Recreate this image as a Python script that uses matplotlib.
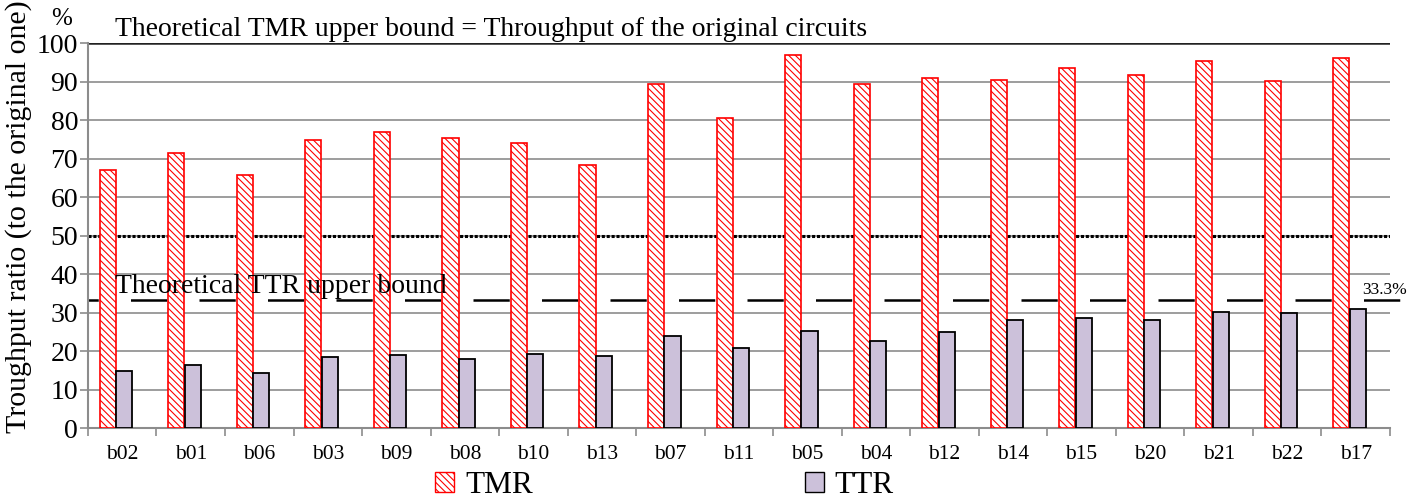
import numpy as np
from matplotlib import pyplot as plt
from matplotlib.patches import Patch

plt.rcParams['font.family'] = ['Liberation Serif', 'DejaVu Serif']
plt.rcParams['hatch.color'] = 'red'
plt.rcParams['hatch.linewidth'] = 0.8

circuits = ["b02", "b01", "b06", "b03", "b09", "b08", "b10", "b13", "b07", "b11",
            "b05", "b04", "b12", "b14", "b15", "b20", "b21", "b22", "b17"]
tmr = [67.0, 71.5, 65.7, 74.7, 77.0, 75.2, 74.0, 68.3, 89.4, 80.4,
       96.8, 89.3, 90.8, 90.3, 93.4, 91.6, 95.3, 90.1, 96.0]
ttr = [14.7, 16.4, 14.4, 18.5, 19.0, 18.0, 19.2, 18.6, 24.0, 20.8,
       25.2, 22.7, 25.0, 28.0, 28.7, 28.1, 30.2, 29.8, 30.8]
tmr_bound = 50
ttr_bound = 33.3

x = np.arange(len(circuits))
n = len(circuits)
w = 0.235

fig = plt.figure(figsize=(14.23, 5.03), dpi=100)
ax = fig.add_axes([0.0618, 0.149, 0.915, 0.7655])

ax.yaxis.grid(True, color='#8c8c8c', linewidth=1.2)
ax.set_axisbelow(True)

ax.bar(x - 0.21, tmr, w, facecolor='white', edgecolor='red', hatch='\\\\\\\\\\',
       linewidth=1.2, zorder=3)
ax.bar(x + 0.03, ttr, w, facecolor='#ccc1da', edgecolor='black', linewidth=1.3, zorder=3)

ax.axhline(100, color='#222222', linewidth=1.8, zorder=2)
ax.axhline(tmr_bound, color='black', linestyle=(0, (1, 0.6)), linewidth=2.2, zorder=2)
ax.plot([-0.5, n - 0.35], [ttr_bound, ttr_bound], color='black', linewidth=1.8,
        linestyle=(10.4, (14.5, 12.9)), clip_on=False, zorder=2)

ax.text(-0.1, 100.3, "Theoretical TMR upper bound = Throughput of the original circuits",
        fontsize=20, va='bottom', ha='left', zorder=5)
ax.text(-0.1, 33.4, "Theoretical TTR upper bound", fontsize=20, va='bottom', ha='left', zorder=5)
ax.text(n - 0.9, 33.7, "33.3%", fontsize=12.5, va='bottom', ha='left')
ax.text(-0.88, 103.5, "%", fontsize=18, va='bottom', ha='center', clip_on=False)

ax.set_xlim(-0.5, n - 0.5)
ax.set_ylim(0, 100)
ax.set_yticks(range(0, 101, 10))
ax.set_yticklabels([str(v) for v in range(0, 101, 10)], fontsize=20)
ax.set_xticks(x)
ax.set_xticklabels(circuits, fontsize=15.5)
ax.set_xticks(np.arange(-0.5, n), minor=True)
ax.tick_params(axis='x', which='major', length=0, pad=12)
ax.tick_params(axis='x', which='minor', length=6, color='#8c8c8c', width=1.2)
ax.tick_params(axis='y', length=6, color='#8c8c8c', width=1.2, pad=1)

for s in ['top', 'right']:
    ax.spines[s].set_visible(False)
for s in ['left', 'bottom']:
    ax.spines[s].set_color('#8c8c8c')
    ax.spines[s].set_linewidth(1.5)

ax.set_ylabel("Troughput ratio (to the original one)", fontsize=21.5)
ax.yaxis.set_label_coords(-0.043, 0.55)

handles = [Patch(facecolor='white', edgecolor='red', hatch='\\\\\\\\\\', label='TMR'),
           Patch(facecolor='#ccc1da', edgecolor='black', label='TTR')]
fig.legend(handles=handles, loc='lower center', bbox_to_anchor=(0.467, -0.05), ncol=2,
           frameon=False, fontsize=22.5, columnspacing=8.7, handlelength=0.6,
           handleheight=0.6, handletextpad=0.35)

fig.savefig("out.png", dpi=100)
